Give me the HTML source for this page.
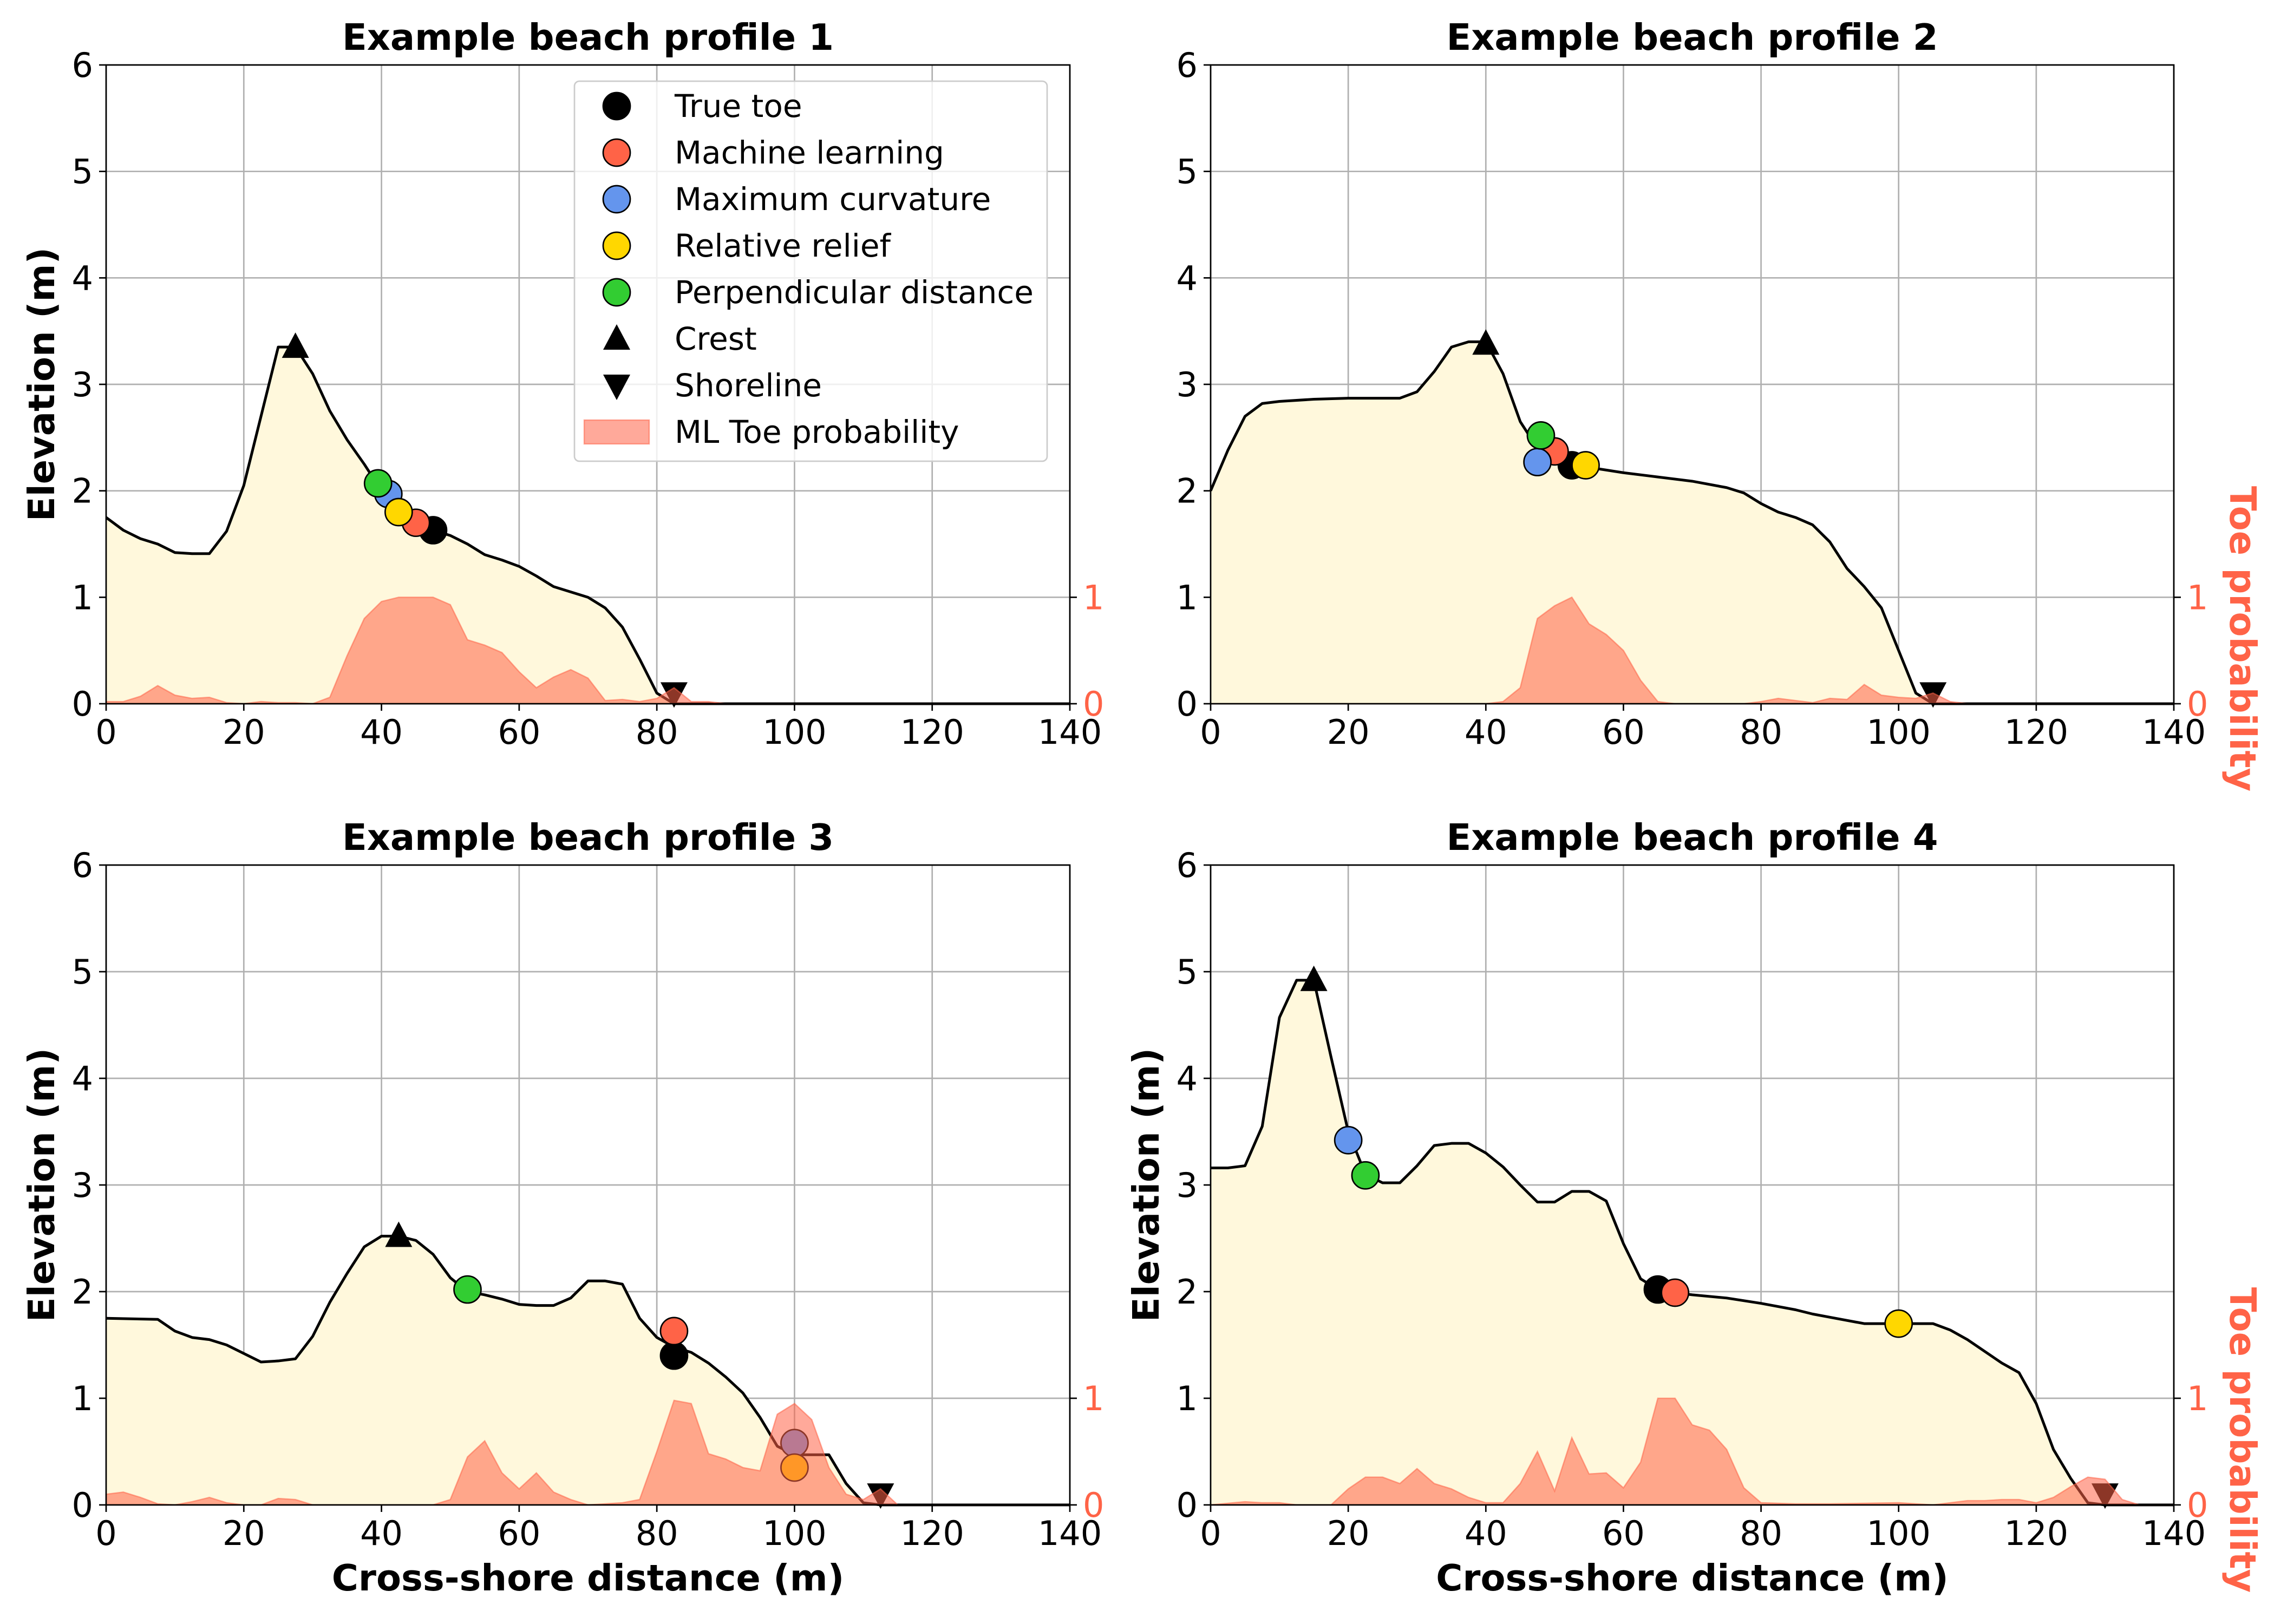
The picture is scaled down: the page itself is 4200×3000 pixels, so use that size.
<!DOCTYPE html>
<html><head><meta charset="utf-8">
<style>html,body{margin:0;padding:0;background:#fff}svg{display:block}text{font-family:"DejaVu Sans","Liberation Sans",sans-serif}</style>
</head><body>
<svg id="fig" width="4200" height="3000" viewBox="0 0 4200 3000" xmlns="http://www.w3.org/2000/svg"></svg>
<script>
const xTicks=[0,20,40,60,80,100,120,140];
const yTicks=[0,1,2,3,4,5,6];
const probTicks=[0,1];
const titles=["Example beach profile 1","Example beach profile 2","Example beach profile 3","Example beach profile 4"];
const elev1=[[0,1.75],[2.5,1.63],[5,1.55],[7.5,1.5],[10,1.42],[12.5,1.41],[15,1.41],[17.5,1.62],[20,2.05],[22.5,2.7],[25,3.35],[27.5,3.35],[30,3.1],[32.5,2.75],[35,2.48],[37.5,2.25],[40,2.0],[42.5,1.8],[45,1.7],[47.5,1.63],[50,1.58],[52.5,1.5],[55,1.4],[57.5,1.35],[60,1.29],[62.5,1.2],[65,1.1],[67.5,1.05],[70,1.0],[72.5,0.9],[75,0.72],[77.5,0.42],[80,0.1],[82.5,0],[140,0]];
const prob1=[[0,0.02],[2.5,0.02],[5,0.07],[7.5,0.17],[10,0.08],[12.5,0.05],[15,0.06],[17.5,0.01],[20,0],[22.5,0.02],[25,0.01],[27.5,0.01],[30,0],[32.5,0.06],[35,0.45],[37.5,0.8],[40,0.96],[42.5,1.0],[45,1.0],[47.5,1.0],[50,0.93],[52.5,0.6],[55,0.55],[57.5,0.48],[60,0.3],[62.5,0.15],[65,0.25],[67.5,0.32],[70,0.24],[72.5,0.03],[75,0.04],[77.5,0.02],[80,0.05],[82.5,0.15],[85,0.02],[87.5,0.02],[90,0],[140,0]];
const elev2=[[0,2.0],[2.5,2.38],[5,2.7],[7.5,2.82],[10,2.84],[15,2.86],[20,2.87],[27.5,2.87],[30,2.93],[32.5,3.12],[35,3.35],[37.5,3.4],[40,3.4],[42.5,3.1],[45,2.65],[47.5,2.4],[50,2.3],[52.5,2.24],[55,2.22],[60,2.17],[65,2.13],[70,2.09],[75,2.03],[77.5,1.98],[80,1.88],[82.5,1.8],[85,1.75],[87.5,1.68],[90,1.52],[92.5,1.27],[95,1.1],[97.5,0.9],[100,0.5],[102.5,0.1],[105,0],[140,0]];
const prob2=[[0,0],[40,0],[42.5,0.02],[45,0.15],[47.5,0.8],[50,0.92],[52.5,1.0],[55,0.75],[57.5,0.65],[60,0.5],[62.5,0.22],[65,0.02],[67.5,0],[77.5,0],[80,0.02],[82.5,0.05],[85,0.03],[87.5,0.01],[90,0.05],[92.5,0.04],[95,0.18],[97.5,0.08],[100,0.06],[102.5,0.05],[105,0.1],[107.5,0.02],[110,0],[140,0]];
const elev3=[[0,1.75],[7.5,1.74],[10,1.63],[12.5,1.57],[15,1.55],[17.5,1.5],[20,1.42],[22.5,1.34],[25,1.35],[27.5,1.37],[30,1.58],[32.5,1.9],[35,2.17],[37.5,2.42],[40,2.52],[42.5,2.52],[45,2.48],[47.5,2.35],[50,2.13],[52.5,2.0],[55,1.97],[57.5,1.93],[60,1.88],[62.5,1.87],[65,1.87],[67.5,1.94],[70,2.1],[72.5,2.1],[75,2.07],[77.5,1.75],[80,1.57],[82.5,1.48],[85,1.43],[87.5,1.33],[90,1.2],[92.5,1.05],[95,0.82],[97.5,0.55],[100,0.47],[102.5,0.47],[105,0.47],[107.5,0.2],[110,0.02],[112.5,0],[140,0]];
const prob3=[[0,0.1],[2.5,0.12],[5,0.07],[7.5,0.01],[10,0],[12.5,0.03],[15,0.07],[17.5,0.02],[20,0],[22.5,0],[25,0.06],[27.5,0.05],[30,0],[47.5,0],[50,0.05],[52.5,0.45],[55,0.6],[57.5,0.3],[60,0.15],[62.5,0.3],[65,0.12],[67.5,0.05],[70,0],[75,0.02],[77.5,0.05],[80,0.5],[82.5,0.98],[85,0.95],[87.5,0.48],[90,0.43],[92.5,0.35],[95,0.32],[97.5,0.85],[100,0.95],[102.5,0.8],[105,0.35],[107.5,0.1],[110,0.05],[112.5,0.15],[115,0],[140,0]];
const elev4=[[0,3.16],[2.5,3.16],[5,3.18],[7.5,3.55],[10,4.57],[12.5,4.92],[15,4.92],[17.5,4.2],[20,3.5],[22.5,3.1],[25,3.02],[27.5,3.02],[30,3.18],[32.5,3.37],[35,3.39],[37.5,3.39],[40,3.3],[42.5,3.17],[45,3.0],[47.5,2.84],[50,2.84],[52.5,2.94],[55,2.94],[57.5,2.85],[60,2.45],[62.5,2.12],[65,2.02],[67.5,1.99],[70,1.97],[75,1.94],[80,1.89],[85,1.83],[87.5,1.79],[90,1.76],[95,1.7],[100,1.7],[105,1.7],[107.5,1.64],[110,1.55],[112.5,1.44],[115,1.33],[117.5,1.24],[120,0.95],[122.5,0.52],[125,0.25],[127.5,0.02],[130,0],[140,0]];
const prob4=[[0,0],[5,0.03],[7.5,0.02],[10,0.02],[12.5,0],[17.5,0],[20,0.15],[22.5,0.26],[25,0.26],[27.5,0.2],[30,0.34],[32.5,0.2],[35,0.15],[37.5,0.07],[40,0.02],[42.5,0.02],[45,0.2],[47.5,0.5],[50,0.13],[52.5,0.63],[55,0.29],[57.5,0.3],[60,0.16],[62.5,0.4],[65,1.0],[67.5,1.0],[70,0.75],[72.5,0.7],[75,0.52],[77.5,0.16],[80,0.02],[85,0.01],[90,0.01],[100,0.02],[105,0],[107.5,0.02],[110,0.04],[112.5,0.04],[115,0.05],[117.5,0.05],[120,0.02],[122.5,0.07],[125,0.17],[127.5,0.26],[130,0.24],[132.5,0.05],[135,0],[140,0]];
// markers: [trueToe, ML, maxCurv, relRelief, perp, crest, shoreline]
const marks1=[[47.5,1.63],[45,1.7],[41,1.97],[42.5,1.8],[39.5,2.07],[27.5,3.35],[82.5,0.1]];
const marks2=[[52.5,2.24],[50,2.37],[47.5,2.27],[54.5,2.24],[48,2.52],[40,3.38],[105,0.1]];
const marks3=[[82.5,1.4],[82.5,1.63],[100,0.58],[100,0.35],[52.5,2.02],[42.5,2.52],[112.5,0.1]];
const marks4=[[65,2.02],[67.5,1.99],[20,3.42],[100,1.7],[22.5,3.09],[15,4.92],[130,0.1]];
const legendLabels=["True toe","Machine learning","Maximum curvature","Relative relief","Perpendicular distance","Crest","Shoreline","ML Toe probability"];
const markColors=["#000000","#ff6347","#6495ed","#ffd700","#32cd32","#000000","#000000"];

const NS="http://www.w3.org/2000/svg";
const svg=document.getElementById('fig');
function el(tag,attrs,parent,txt){const e=document.createElementNS(NS,tag);for(const k in attrs)e.setAttribute(k,attrs[k]);if(txt!==undefined)e.textContent=txt;(parent||svg).appendChild(e);return e;}
const boxes=[[196,1976,120,1300],[2236,4015,120,1300],[196,1976,1598,2780],[2236,4015,1598,2780]];
const elevs=[elev1,elev2,elev3,elev4],probs=[prob1,prob2,prob3,prob4],marks=[marks1,marks2,marks3,marks4];
const markNames=["true-toe","machine-learning","maximum-curvature","relative-relief","perpendicular-distance","crest","shoreline"];
const TF=62, HF=67;
for(let p=0;p<4;p++){
  const [X0,X1,Y0,Y1]=boxes[p];
  const sx=v=>X0+(v-0)/(140-0)*(X1-X0);
  const sy=v=>Y1-(v-0)/(6-0)*(Y1-Y0);
  const g=el('g',{});
  
  
  xTicks.forEach(t=>{const l=el('line',{x1:sx(t),x2:sx(t),y1:Y0,y2:Y1,stroke:'#b0b0b0','stroke-width':2.7},g);});
  yTicks.forEach(t=>{const l=el('line',{x1:X0,x2:X1,y1:sy(t),y2:sy(t),stroke:'#b0b0b0','stroke-width':2.7},g);});
  const e=elevs[p];
  let d='M'+sx(e[0][0])+','+sy(0);
  e.forEach(q=>{d+=' L'+sx(q[0])+','+sy(q[1]);});
  d+=' L'+sx(e[e.length-1][0])+','+sy(0)+' Z';
  const f=el('path',{d:d,fill:'#fff8dc',stroke:'none'},g);
  
  const ln=el('polyline',{points:e.map(q=>sx(q[0])+','+sy(q[1])).join(' '),fill:'none',stroke:'#000','stroke-width':5,'stroke-linejoin':'round'},g);
  
  const m=marks[p];
  m.forEach((q,i)=>{
    const cx=sx(q[0]),cy=sy(q[1]);let mk;
    if(i<5){mk=el('circle',{cx:cx,cy:cy,r:25,fill:markColors[i],stroke:'#000','stroke-width':2.7},g);}
    else if(i===5){mk=el('polygon',{points:`${cx},${cy-27} ${cx-25},${cy+20} ${cx+25},${cy+20}`,fill:'#000'},g);}
    else{mk=el('polygon',{points:`${cx},${cy+27} ${cx-25},${cy-20} ${cx+25},${cy-20}`,fill:'#000'},g);}
    
    
  });
  const pr=probs[p];
  let pd='M'+sx(pr[0][0])+','+sy(0);
  pr.forEach(q=>{pd+=' L'+sx(q[0])+','+sy(q[1]);});
  pd+=' L'+sx(pr[pr.length-1][0])+','+sy(0)+' Z';
  const pf=el('path',{d:pd,fill:'#ff6347','fill-opacity':0.55,stroke:'#ff6347','stroke-opacity':0.55,'stroke-width':2.5},g);
  
  const sp=el('rect',{x:X0,y:Y0,width:X1-X0,height:Y1-Y0,fill:'none',stroke:'#000','stroke-width':2.7},g);
  
  xTicks.forEach(t=>{
    el('line',{x1:sx(t),x2:sx(t),y1:Y1,y2:Y1+13,stroke:'#000','stroke-width':2.7},g);
    const tx=el('text',{x:sx(t),y:Y1+74,'font-size':TF,'text-anchor':'middle',fill:'#000'},g,String(t));
    
  });
  yTicks.forEach(t=>{
    el('line',{x1:X0-13,x2:X0,y1:sy(t),y2:sy(t),stroke:'#000','stroke-width':2.7},g);
    const tx=el('text',{x:X0-24,y:sy(t)+22,'font-size':TF,'text-anchor':'end',fill:'#000'},g,String(t));
    
  });
  probTicks.forEach(t=>{
    el('line',{x1:X1,x2:X1+13,y1:sy(t),y2:sy(t),stroke:'#000','stroke-width':2.7},g);
    const tx=el('text',{x:X1+24,y:sy(t)+22,'font-size':TF,'text-anchor':'start',fill:'#ff6347'},g,String(t));
    
  });
  const tt=el('text',{x:(X0+X1)/2,y:Y0-28,'font-size':HF,'font-weight':'bold','text-anchor':'middle',fill:'#000'},g,titles[p]);
  
  if(p!==1){const yl=el('text',{x:0,y:0,'font-size':HF,'font-weight':'bold','text-anchor':'middle',fill:'#000',transform:`translate(${X0-96},${(Y0+Y1)/2}) rotate(-90)`},g,'Elevation (m)');
    }
  if(p>=2){const xl=el('text',{x:(X0+X1)/2,y:Y1+158,'font-size':HF,'font-weight':'bold','text-anchor':'middle',fill:'#000'},g,'Cross-shore distance (m)');
    }
  if(p%2===1){const rl=el('text',{x:0,y:0,'font-size':HF,'font-weight':'bold','text-anchor':'middle',fill:'#ff6347',transform:`translate(${X1+104},${Y1-120}) rotate(90)`},g,'Toe probability');
    }
  if(p===0){
    const lg=el('g',{},g);
    
    el('rect',{x:1061,y:150,width:873,height:702,rx:9,fill:'#fff','fill-opacity':0.8,stroke:'#cccccc','stroke-width':2.7},lg);
    legendLabels.forEach((lab,i)=>{
      const cy=196+i*86,cx=1139;let mk;
      if(i<5)mk=el('circle',{cx:cx,cy:cy,r:25,fill:markColors[i],stroke:'#000','stroke-width':2.7},lg);
      else if(i===5)mk=el('polygon',{points:`${cx},${cy-27} ${cx-25},${cy+20} ${cx+25},${cy+20}`,fill:'#000'},lg);
      else if(i===6)mk=el('polygon',{points:`${cx},${cy+27} ${cx-25},${cy-20} ${cx+25},${cy-20}`,fill:'#000'},lg);
      else mk=el('rect',{x:cx-60,y:cy-22,width:120,height:44,fill:'#ff6347','fill-opacity':0.55,stroke:'#ff6347','stroke-opacity':0.55,'stroke-width':2.5},lg);
      
      const t=el('text',{x:1246,y:cy+20,'font-size':58,fill:'#000'},lg,lab);
      
    });
  }
}
</script>
</body></html>
